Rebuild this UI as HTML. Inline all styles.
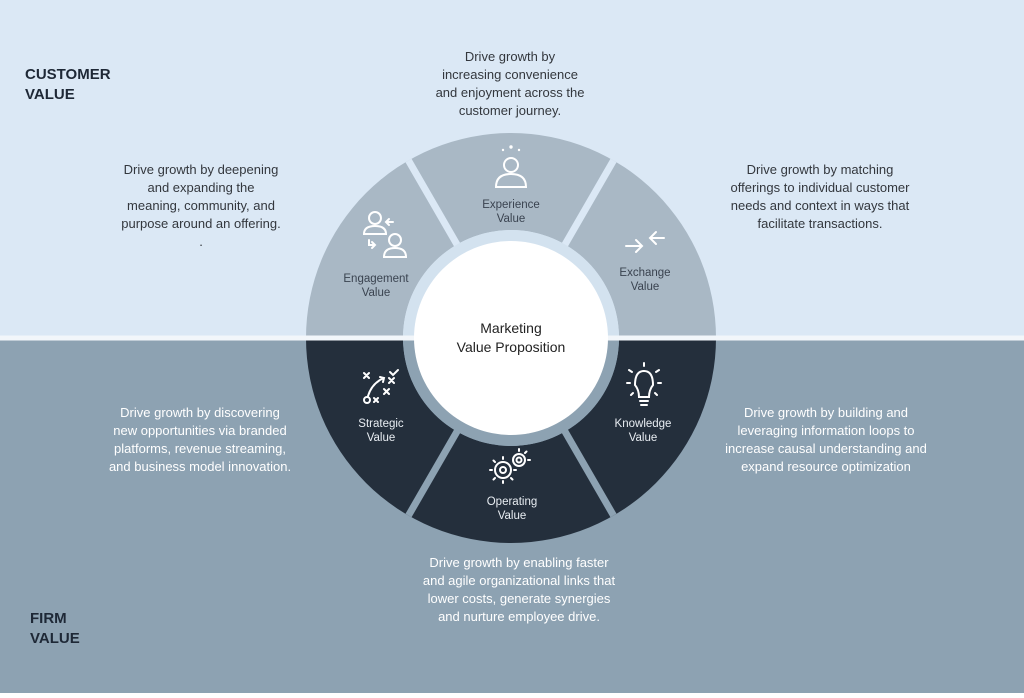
<!DOCTYPE html>
<html><head><meta charset="utf-8"><style>
html,body{margin:0;padding:0}
body{width:1024px;height:693px;overflow:hidden;font-family:"Liberation Sans",sans-serif}
</style></head><body>
<svg width="1024" height="693" viewBox="0 0 1024 693" xmlns="http://www.w3.org/2000/svg" font-family="Liberation Sans, sans-serif">
<rect x="0" y="0" width="1024" height="338" fill="#dbe8f5"/>
<rect x="0" y="338" width="1024" height="355" fill="#8da2b2"/>
<path d="M306,338 A205,205 0 0 1 716,338 L619,338 A108,108 0 0 0 403,338 Z" fill="#a9b8c5"/>
<path d="M306,338 A205,205 0 0 0 716,338 L619,338 A108,108 0 0 1 403,338 Z" fill="#242f3c"/>
<g stroke-width="7">
<line x1="511" y1="338" x2="408.5" y2="160.5" stroke="#dbe8f5"/>
<line x1="511" y1="338" x2="613.5" y2="160.5" stroke="#dbe8f5"/>
<line x1="511" y1="338" x2="408.5" y2="515.5" stroke="#8da2b2"/>
<line x1="511" y1="338" x2="613.5" y2="515.5" stroke="#8da2b2"/>
</g>
<path d="M403,338 A108,108 0 0 1 619,338 Z" fill="#d3e2ef"/>
<path d="M403,338 A108,108 0 0 0 619,338 Z" fill="#8da2b2"/>
<rect x="0" y="335.5" width="1024" height="5" fill="#f2f6fa"/>
<circle cx="511" cy="338" r="97" fill="#ffffff"/>
<text x="511" y="333" font-size="14" text-anchor="middle" fill="#222">Marketing</text>
<text x="511" y="352" font-size="14" text-anchor="middle" fill="#222">Value Proposition</text>

<text x="25" y="79" font-size="15" font-weight="bold" fill="#1e2836">CUSTOMER</text>
<text x="25" y="99" font-size="15" font-weight="bold" fill="#1e2836">VALUE</text>
<text x="30" y="623" font-size="15" font-weight="bold" fill="#1e2836">FIRM</text>
<text x="30" y="643" font-size="15" font-weight="bold" fill="#1e2836">VALUE</text>

<g font-size="13" fill="#33373d" text-anchor="middle">
<text x="510" y="61">Drive growth by</text>
<text x="510" y="79">increasing convenience</text>
<text x="510" y="97">and enjoyment across the</text>
<text x="510" y="115">customer journey.</text>
<text x="201" y="174">Drive growth by deepening</text>
<text x="201" y="192">and expanding the</text>
<text x="201" y="210">meaning, community, and</text>
<text x="201" y="228">purpose around an offering.</text>
<text x="201" y="246">.</text>
<text x="820" y="174">Drive growth by matching</text>
<text x="820" y="192">offerings to individual customer</text>
<text x="820" y="210">needs and context in ways that</text>
<text x="820" y="228">facilitate transactions.</text>
</g>
<g font-size="13" fill="#ffffff" text-anchor="middle">
<text x="200" y="417">Drive growth by discovering</text>
<text x="200" y="435">new opportunities via branded</text>
<text x="200" y="453">platforms, revenue streaming,</text>
<text x="200" y="471">and business model innovation.</text>
<text x="826" y="417">Drive growth by building and</text>
<text x="826" y="435">leveraging information loops to</text>
<text x="826" y="453">increase causal understanding and</text>
<text x="826" y="471">expand resource optimization</text>
<text x="519" y="567">Drive growth by enabling faster</text>
<text x="519" y="585">and agile organizational links that</text>
<text x="519" y="603">lower costs, generate synergies</text>
<text x="519" y="621">and nurture employee drive.</text>
</g>

<g font-size="11.5" text-anchor="middle" fill="#3a4350">
<text x="511" y="208">Experience</text><text x="511" y="222">Value</text>
<text x="376" y="282">Engagement</text><text x="376" y="296">Value</text>
<text x="645" y="276">Exchange</text><text x="645" y="290">Value</text>
</g>
<g font-size="11.5" text-anchor="middle" fill="#e8edf2">
<text x="381" y="427">Strategic</text><text x="381" y="441">Value</text>
<text x="643" y="427">Knowledge</text><text x="643" y="441">Value</text>
<text x="512" y="505">Operating</text><text x="512" y="519">Value</text>
</g>

<g fill="none" stroke="#ffffff" stroke-width="2" stroke-linecap="round">
<circle cx="511" cy="165" r="7"/>
<path d="M496,187 Q496,174 511,174 Q526,174 526,187 Z"/>
<circle cx="375" cy="218" r="6"/>
<path d="M364,234 Q364,226 375,226 Q386,226 386,234 Z"/>
<circle cx="395" cy="240" r="6"/>
<path d="M384,257 Q384,248 395,248 Q406,248 406,257 Z"/>
<path d="M393,222 L387,222 M389,219 L386,222 L389,225"/>
<path d="M369,240 L369,245 L375,245 M372,242 L375,245 L372,248"/>
<path d="M626,246 L641,246 M636,240 L642,246 L636,252"/>
<path d="M664,238 L651,238 M656,232 L650,238 L656,244"/>
</g>
<g fill="#ffffff"><circle cx="503" cy="150" r="1.2"/><circle cx="511" cy="147" r="1.7"/><circle cx="519" cy="150" r="1.2"/></g>
<g fill="none" stroke="#ffffff" stroke-width="2" stroke-linecap="round">
<path d="M364,373 l5,5 M369,373 l-5,5 M384,389 l5,5 M389,389 l-5,5 M389,378 l5,5 M394,378 l-5,5 M374,398 l4,4 M378,398 l-4,4"/>
<path d="M390,372 l3,3 l5,-5"/>
<circle cx="367" cy="400" r="3"/>
<path d="M368,396 Q372,383 384,378 M380,377 l4,1 l-1,4"/>
<path d="M635,385 Q635,371 644,371 Q653,371 653,385 Q649,390 649,397 L639,397 Q639,390 635,385 Z"/>
<path d="M640,401 L648,401 M641,405 L647,405"/>
<path d="M644,366 l0,-3 M632,372 l-3,-2 M656,372 l3,-2 M630,383 l-3,0 M658,383 l3,0 M633,393 l-2,2 M655,393 l2,2"/>
<circle cx="503" cy="470" r="8"/><circle cx="503" cy="470" r="3"/>
<circle cx="519" cy="460" r="6"/><circle cx="519" cy="460" r="2.5"/>
<path d="M503,459 l0,-2 M503,481 l0,2 M492,470 l-2,0 M514,470 l2,0 M495,462 l-1.5,-1.5 M511,478 l1.5,1.5 M495,478 l-1.5,1.5 M519,451 l0,-2 M528,460 l2,0 M525,453 l1.5,-1.5"/>
</g>
</svg>
</body></html>
